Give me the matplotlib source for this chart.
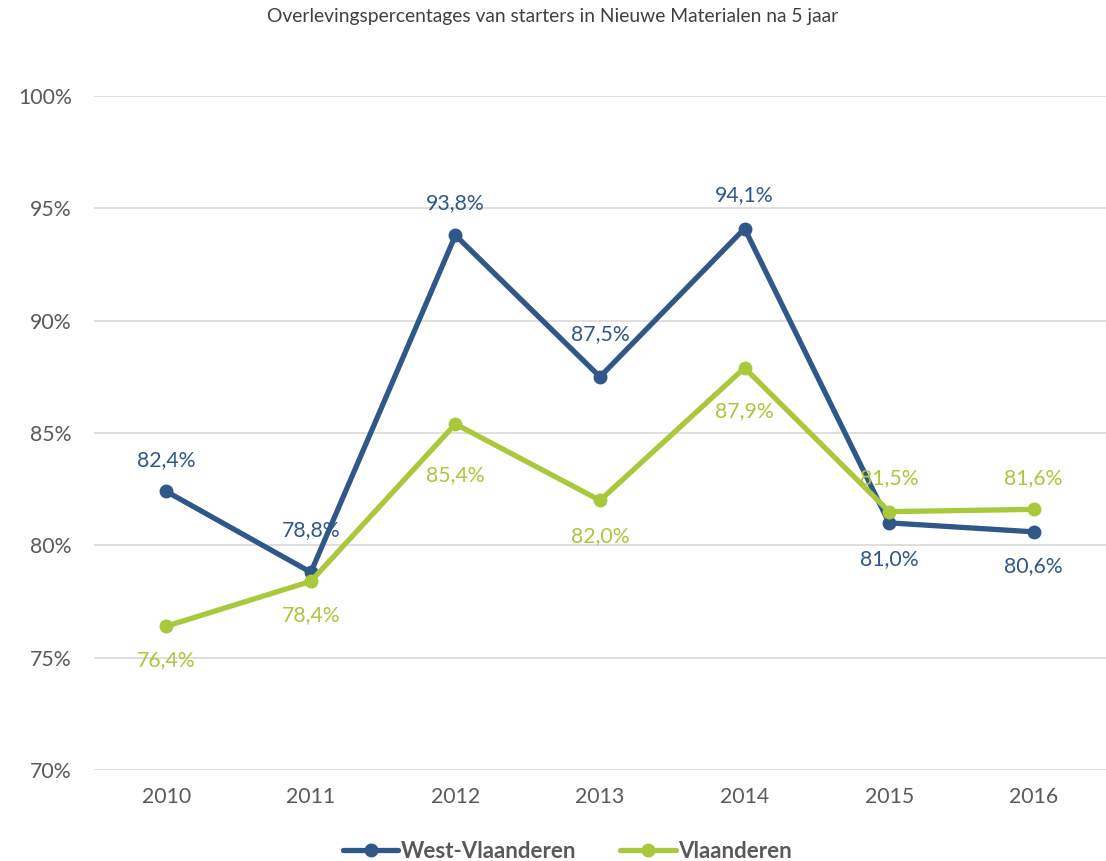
import matplotlib.pyplot as plt
import matplotlib
matplotlib.rcParams['font.family'] = ['Lato', 'DejaVu Sans']

years = ['2010', '2011', '2012', '2013', '2014', '2015', '2016']
west_vl = [82.4, 78.8, 93.8, 87.5, 94.1, 81.0, 80.6]
vlaanderen = [76.4, 78.4, 85.4, 82.0, 87.9, 81.5, 81.6]

blue = '#2F5888'
green = '#A9C83B'
grey = '#595959'

# label offsets in pixels (positive = above the point), like Excel places them
west_off = [31, 42, 32, 43, 33, -36, -34]
vl_off = [-34, -34, -51, -36, -43, 34, 31]

fig = plt.figure(figsize=(11.06, 8.61), dpi=100)
ax = fig.add_axes([0.085, 0.1057, 0.915, 0.7828])

x = range(len(years))
ax.plot(x, west_vl, color=blue, lw=3.8, marker='o', ms=9, label='West-Vlaanderen',
        solid_capstyle='round', zorder=3)
ax.plot(x, vlaanderen, color=green, lw=3.8, marker='o', ms=9, label='Vlaanderen',
        solid_capstyle='round', zorder=3)

def fmt(v):
    return f'{v:.1f}%'.replace('.', ',')

for xi, v, off in zip(x, west_vl, west_off):
    ax.annotate(fmt(v), (xi, v), xytext=(0, off * 0.72), textcoords='offset points',
                ha='center', va='center', color=blue, fontsize=15.3)
for xi, v, off in zip(x, vlaanderen, vl_off):
    ax.annotate(fmt(v), (xi, v), xytext=(0, off * 0.72), textcoords='offset points',
                ha='center', va='center', color=green, fontsize=15.3)

ax.set_xlim(-0.5, 6.5)
ax.set_ylim(70, 100)
ax.set_yticks(range(70, 101, 5))
ax.set_yticklabels([f'{t}%' for t in range(70, 101, 5)])
ax.set_xticks(list(x))
ax.set_xticklabels(years)
ax.tick_params(length=0, labelsize=15.3, colors=grey, pad=12)
ax.tick_params(axis='y', pad=16)
ax.grid(axis='y', color='#D9D9D9', lw=1.2)
ax.set_axisbelow(True)
for s in ax.spines.values():
    s.set_visible(False)

fig.text(0.5, 0.981, 'Overlevingspercentages van starters in Nieuwe Materialen na 5 jaar',
         ha='center', va='center', fontsize=13.9, color='#404040')

leg = fig.legend(loc='center', bbox_to_anchor=(0.513, 0.011), ncol=2, frameon=False,
                 handlelength=2.5, columnspacing=2.0, handletextpad=0.1,
                 prop={'size': 16, 'weight': 'bold'})
for t in leg.get_texts():
    t.set_color(grey)

fig.savefig('out.png', dpi=100)
